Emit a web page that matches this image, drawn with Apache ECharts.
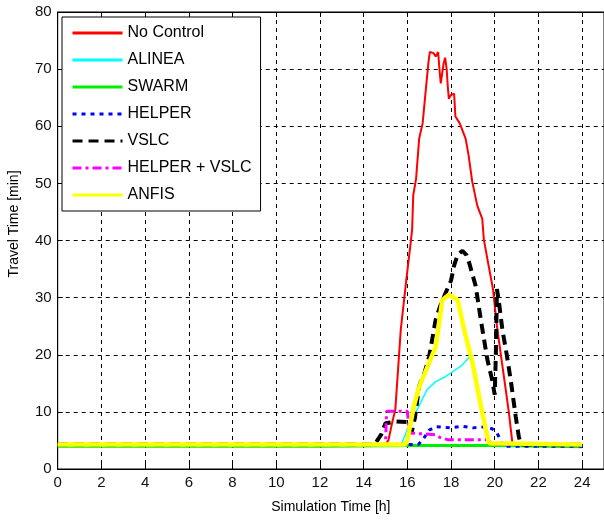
<!DOCTYPE html>
<html>
<head>
<meta charset="utf-8">
<script src="https://cdn.jsdelivr.net/npm/echarts@6/dist/echarts.min.js"></script>
<style>
html,body{margin:0;padding:0;background:#fff;}
#chart{width:604px;height:520px;}
</style>
</head>
<body>
<div id="chart"></div>
<script>
// ---- data: [time (h), travel time (min)] ----
var seriesNames = ['No Control', 'ALINEA', 'SWARM', 'HELPER', 'VSLC', 'HELPER + VSLC', 'ANFIS'];

var noControl = [[0,4.3],[15.0,4.3],[15.14,5.1],[15.3,8],[15.45,10.4],[15.7,24.4],[15.95,33],[16.15,39.5],[16.22,42],[16.27,47.9],[16.4,50.8],[16.54,57.8],[16.7,60.5],[16.85,66.6],[16.97,71.3],[17.03,73.0],[17.2,72.8],[17.3,72.2],[17.41,73.0],[17.48,69.5],[17.53,67.5],[17.6,67.2],[17.66,71],[17.73,72.0],[17.8,70],[17.85,67],[17.9,64.8],[18.0,65.5],[18.14,65.7],[18.2,61.7],[18.4,60.5],[18.67,57.8],[18.8,55],[18.97,50.3],[19.2,46.1],[19.43,43.8],[19.5,40.2],[19.7,36],[19.92,31.5],[20.1,25],[20.33,18.6],[20.5,14],[20.65,9.8],[20.8,4.8],[20.9,4.3],[24,4.3]];

var alinea = [[0,4.3],[15.7,4.3],[15.8,5],[16.0,7],[16.3,9.2],[16.9,13.9],[17.3,15.3],[17.76,16.2],[18.45,18.0],[18.95,20.0],[19.1,17],[19.4,11],[19.65,5],[19.75,4.3],[24,4.3]];

var swarm = [[0,4.0],[12,4.0],[16.5,4.1],[20,4.1],[24,3.9]];

var helper = [[0,4.3],[16.5,4.3],[16.7,5.1],[17.0,6.8],[17.3,7.4],[18,7.2],[18.5,7.5],[19,7.2],[19.6,7.4],[19.9,7],[20.1,6.3],[20.27,5.1],[20.35,4.0],[24,4.0]];

var vslc = [[0,4.3],[14.5,4.3],[14.8,6],[15.0,8],[15.5,8.3],[16.0,8.2],[16.2,6.5],[16.35,9],[16.54,14.5],[16.8,17],[17.0,19.7],[17.3,26.2],[17.5,28.5],[17.76,30.9],[18.0,33],[18.14,35.6],[18.3,37.5],[18.52,38.2],[18.7,37.5],[18.83,36.1],[19.13,32.0],[19.36,26.2],[19.66,19.2],[19.88,15.6],[20.0,13],[20.05,20],[20.1,31.5],[20.2,29],[20.35,24.4],[20.55,20],[20.73,15.6],[20.96,9.2],[21.1,5.7],[21.2,4.3],[24,4.3]];

var helperVslc = [[0,4.3],[15.0,4.3],[15.05,10.1],[16.0,10.1],[16.1,6.3],[17.3,6.0],[17.5,5.5],[17.9,5.1],[19.7,5.1],[19.9,4.3],[24,4.3]];

var anfis = [[0,4.3],[15.9,4.3],[16.0,5.0],[16.3,11.0],[16.54,14.4],[17.3,21.4],[17.6,29.6],[17.9,30.5],[18.3,29.6],[18.6,24.4],[18.98,18.6],[19.28,12.7],[19.59,6.9],[19.74,4.5],[19.8,4.3],[24,4.3]];

var xTicks = [0,2,4,6,8,10,12,14,16,18,20,22,24];
var yTicks = [0,10,20,30,40,50,60,70,80];

// ---- chart ----
var FONT = '"Liberation Sans", Arial, sans-serif';
var chart = echarts.init(document.getElementById('chart'), null, {renderer: 'canvas'});

var gridLine = {show: true, lineStyle: {color: '#000', width: 1, type: [4, 4]}};

function mk(name, data, color, width, type) {
  return {
    name: name, type: 'line', data: data, symbol: 'none', animation: false,
    lineStyle: {color: color, width: width, type: type, cap: 'butt'},
    itemStyle: {color: color}
  };
}

var option = {
  backgroundColor: '#fff',
  animation: false,
  grid: {left: 57.7, top: 12, right: -1.2, bottom: 51, show: true, borderColor: '#000', borderWidth: 1, backgroundColor: '#fff'},
  xAxis: [{
    type: 'value', min: 0, max: 25, interval: 2,
    name: 'Simulation Time [h]', nameLocation: 'middle', nameGap: 31,
    nameTextStyle: {fontFamily: FONT, fontSize: 14, color: '#000'},
    axisLine: {show: true, lineStyle: {color: '#000', width: 1}},
    axisTick: {show: true, inside: true, length: 5, lineStyle: {color: '#000'}},
    axisLabel: {fontFamily: FONT, fontSize: 15, color: '#111', margin: 6, showMaxLabel: false,
      formatter: function (v) { return xTicks.indexOf(v) >= 0 ? String(v) : ''; }},
    splitLine: gridLine
  }, {
    type: 'value', min: 0, max: 25, interval: 2, position: 'top',
    axisLine: {show: true, lineStyle: {color: '#000', width: 1}},
    axisTick: {show: true, inside: true, length: 5, lineStyle: {color: '#000'}},
    axisLabel: {show: false}, splitLine: {show: false}
  }],
  yAxis: {
    type: 'value', min: 0, max: 80, interval: 10,
    axisLine: {show: true, lineStyle: {color: '#000', width: 1}},
    axisTick: {show: true, inside: true, length: 5, lineStyle: {color: '#000'}},
    axisLabel: {fontFamily: FONT, fontSize: 15, color: '#111', margin: 6,
      formatter: function (v) { return yTicks.indexOf(v) >= 0 ? String(v) : ''; }},
    splitLine: gridLine
  },
  legend: {
    orient: 'vertical', left: 62, top: 17,
    padding: [8, 9, 8, 9],
    itemWidth: 50, itemHeight: 14, itemGap: 11,
    backgroundColor: '#fff', borderColor: '#000', borderWidth: 1,
    itemStyle: {opacity: 0, borderWidth: 0},
    lineStyle: {width: 3},
    textStyle: {fontFamily: FONT, fontSize: 16, color: '#000'},
    data: seriesNames
  },
  graphic: [{
    type: 'text', x: 14, y: 224, rotation: Math.PI / 2,
    style: {text: 'Travel Time [min]', font: '14px ' + FONT, fill: '#000', align: 'center', verticalAlign: 'middle'}
  }],
  series: [
    mk(seriesNames[0], noControl, '#ff0000', 2, 'solid'),
    mk(seriesNames[1], alinea, '#00ffff', 1.5, 'solid'),
    mk(seriesNames[2], swarm, '#00ee00', 3, 'solid'),
    mk(seriesNames[3], helper, '#0000ff', 3, [4, 5]),
    mk(seriesNames[4], vslc, '#000000', 4, [10, 6]),
    mk(seriesNames[5], helperVslc, '#ff00ff', 3, [9, 4, 3, 4]),
    mk(seriesNames[6], anfis, '#ffff00', 4.5, 'solid')
  ]
};
chart.setOption(option);
</script>
</body>
</html>
